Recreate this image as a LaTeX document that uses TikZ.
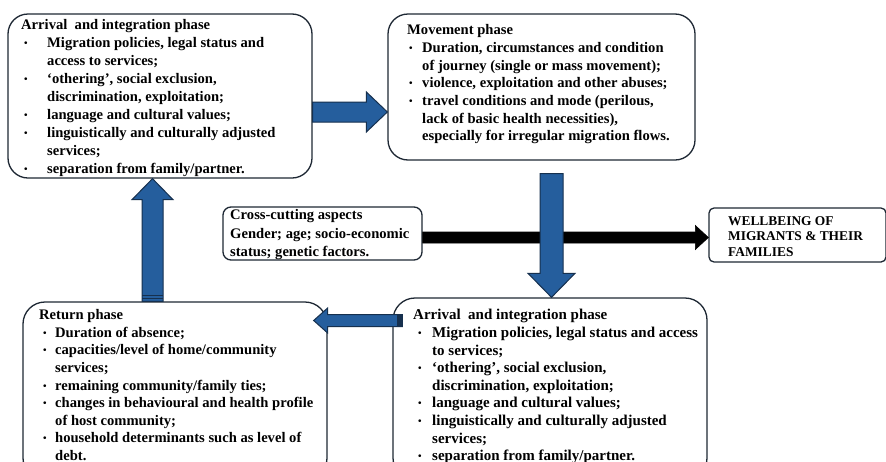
\documentclass[tikz,border=0pt]{standalone}
\usepackage{fontspec}
\setmainfont{Liberation Serif}
\usetikzlibrary{calc}
\definecolor{arrowblue}{RGB}{37,94,157}
\definecolor{arrowline}{RGB}{22,48,78}
\definecolor{boxline}{RGB}{30,40,52}
\newcommand{\bul}{\raisebox{1pt}{\fontsize{10}{10}\selectfont\textbullet}}
\newcommand{\fsz}[2]{\fontsize{#1}{#2}\selectfont\bfseries}
\begin{document}
\begin{tikzpicture}[x=1pt,y=-1pt,
  phasebox/.style={draw=boxline, line width=1.3pt, rounded corners=20pt, inner sep=0pt, fill=white},
  smallbox/.style={draw=boxline, line width=1.3pt, rounded corners=#1, inner sep=0pt, fill=white},
  txt/.style={anchor=north west, inner sep=0pt, align=left},
  barrow/.style={fill=arrowblue, draw=arrowline, line width=1pt, line join=miter},
  karrow/.style={fill=black, draw=black, line width=0.6pt, line join=miter}]
\path[use as bounding box, clip] (0,0) rectangle (886,461);
\fill[white] (0,0) rectangle (886,461);

% reference coordinates
\coordinate (y112) at (0,112);
\coordinate (y320) at (0,320.5);
\coordinate (y237) at (0,237.5);
\coordinate (x551) at (551.5,0);
\coordinate (x152) at (152.5,0);

% boxes
\node[phasebox, minimum width=304pt, minimum height=164pt] (arr1) at (160,96) {};
\node[phasebox, minimum width=307pt, minimum height=146pt] (mv) at (541.5,87) {};
\node[smallbox=8pt, minimum width=199pt, minimum height=53pt] (cc) at (322.5,233.5) {};
\node[smallbox=5pt, minimum width=177pt, minimum height=54pt] (wb) at (797.5,235) {};
\node[phasebox, rounded corners=22pt, minimum width=304pt, minimum height=178pt] (rt) at (175,391) {};
\node[phasebox, rounded corners=22pt, minimum width=314pt, minimum height=182pt] (arr2) at (550,389) {};

% texts
\node[txt, font=\fsz{14.6}{18}] (arr1t) at (21,16.9) {\begin{tabular}{@{\hspace{3pt}}p{23pt}@{}l@{}}
\multicolumn{2}{@{}l@{}}{Arrival\ \ and integration phase}\\
\bul & Migration policies, legal status and\\
 & access to services;\\
\bul & ‘othering’, social exclusion,\\
 & discrimination, exploitation;\\
\bul & language and cultural values;\\
\bul & linguistically and culturally adjusted\\
 & services;\\
\bul & separation from family/partner.
\end{tabular}};

\node[txt, font=\fsz{14.6}{17.7}] (mvt) at (407,22.1) {\begin{tabular}{@{\hspace{2pt}}p{13pt}@{}l@{}}
\multicolumn{2}{@{}l@{}}{Movement phase}\\
\bul & Duration, circumstances and condition\\
 & of journey (single or mass movement);\\
\bul & violence, exploitation and other abuses;\\
\bul & travel conditions and mode (perilous,\\
 & lack of basic health necessities),\\
 & especially for irregular migration flows.
\end{tabular}};

\node[txt, font=\fsz{14.6}{18.5}] (cct) at (230,206.5) {\begin{tabular}{@{}l@{}}
Cross-cutting aspects\\
Gender; age; socio-economic\\
status; genetic factors.
\end{tabular}};

\node[txt, font=\fsz{13.4}{15.5}] (wbt) at (728,214.4) {\begin{tabular}{@{}l@{}}
WELLBEING OF\\
MIGRANTS \& THEIR\\
FAMILIES
\end{tabular}};

\node[txt, font=\fsz{14.6}{17.6}] (rtt) at (39,307.2) {\begin{tabular}{@{\hspace{4pt}}p{12pt}@{}l@{}}
\multicolumn{2}{@{}l@{}}{Return phase}\\
\bul & Duration of absence;\\
\bul & capacities/level of home/community\\
 & services;\\
\bul & remaining community/family ties;\\
\bul & changes in behavioural and health profile\\
 & of host community;\\
\bul & household determinants such as level of\\
 & debt.
\end{tabular}};

\node[txt, font=\fsz{15}{17.6}] (arr2t) at (413,307.3) {\begin{tabular}{@{\hspace{5pt}}p{14pt}@{}l@{}}
\multicolumn{2}{@{}l@{}}{Arrival\ \ and integration phase}\\
\bul & Migration policies, legal status and access\\
 & to services;\\
\bul & ‘othering’, social exclusion,\\
 & discrimination, exploitation;\\
\bul & language and cultural values;\\
\bul & linguistically and culturally adjusted\\
 & services;\\
\bul & separation from family/partner.
\end{tabular}};

% black arrow: cross-cutting -> wellbeing
\coordinate (kT) at (cc.east |- y237);
\coordinate (kP) at (wb.west |- y237);
\draw[karrow] ($(kT)+(0,-5.5)$) -- ($(kP)+(-13,-5.5)$) -- ($(kP)+(-13,-12)$) -- (kP)
  -- ($(kP)+(-13,12)$) -- ($(kP)+(-13,5.5)$) -- ($(kT)+(0,5.5)$) -- cycle;

% arrival (top) -> movement
\coordinate (aT) at (arr1.east |- y112);
\coordinate (aP) at (mv.west |- y112);
\draw[barrow] ($(aT)+(0,-10)$) -- ($(aP)+(-21,-10)$) -- ($(aP)+(-21,-20)$) -- (aP)
  -- ($(aP)+(-21,20)$) -- ($(aP)+(-21,10)$) -- ($(aT)+(0,10)$) -- cycle;

% movement -> arrival (bottom)
\coordinate (bT) at ($(mv.south -| x551)+(0,13)$);
\coordinate (bP) at (arr2.north -| x551);
\draw[barrow] ($(bT)+(-11.5,0)$) -- ($(bP)+(-11.5,-24)$) -- ($(bP)+(-23.5,-24)$) -- (bP)
  -- ($(bP)+(23.5,-24)$) -- ($(bP)+(11.5,-24)$) -- ($(bT)+(11.5,0)$) -- cycle;

% arrival (bottom) -> return
\coordinate (cT) at ($(arr2.west |- y320)+(10,0)$);
\coordinate (cP) at ($(rt.east |- y320)+(-14,0)$);
\draw[barrow] ($(cT)+(0,-6)$) -- ($(cP)+(14,-6)$) -- ($(cP)+(14,-12.5)$) -- (cP)
  -- ($(cP)+(14,12.5)$) -- ($(cP)+(14,6)$) -- ($(cT)+(0,6)$) -- cycle;
\fill[arrowline] ($(cT)+(-5,-6)$) rectangle ($(cT)+(0,6)$);

% return -> arrival (top)
\coordinate (dT) at (rt.north -| x152);
\coordinate (dP) at (arr1.south -| x152);
\draw[barrow] ($(dT)+(-10.5,0)$) -- ($(dP)+(-10.5,21)$) -- ($(dP)+(-20.5,21)$) -- (dP)
  -- ($(dP)+(20.5,21)$) -- ($(dP)+(10.5,21)$) -- ($(dT)+(10.5,0)$) -- cycle;
\draw[arrowline, line width=1pt] ($(dT)+(-10.5,-6)$) -- ($(dT)+(10.5,-6)$);
\draw[arrowline, line width=1pt] ($(dT)+(-10.5,-3)$) -- ($(dT)+(10.5,-3)$);
\end{tikzpicture}
\end{document}
